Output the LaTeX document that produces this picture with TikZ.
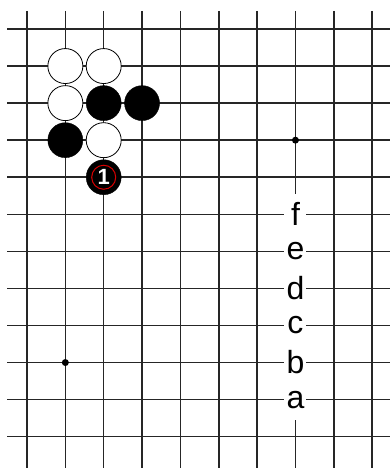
\documentclass[tikz,border=0pt]{standalone}
\usepackage{fontspec}
\setmainfont{Liberation Sans}
\usepackage{tikz}

\begin{document}
\begin{tikzpicture}[
  x=1pt, y=-1pt,
  grid/.style={line width=1.5pt, black!85},
  wst/.style={circle, draw=black, line width=0.8pt, fill=white, minimum size=35pt, inner sep=0pt},
  bst/.style={circle, draw=black, fill=black, minimum size=35pt, inner sep=0pt},
  hoshi/.style={circle, fill=black, inner sep=0pt, minimum size=7pt},
  ring/.style={circle, draw=red!85!black, line width=1pt, minimum size=24pt, inner sep=0pt},
  lbl/.style={fill=white, inner sep=0pt, minimum width=22pt, minimum height=41pt, font=\fontsize{32}{32}\selectfont},
]
  \useasboundingbox (0,0) rectangle (390,468);

  % board points
  \foreach \i in {0,...,9}
    \foreach \j in {0,...,11}
      \coordinate (p-\i-\j) at ({27+38.35*\i},{29+37.06*\j});

  % grid lines
  \foreach \i in {0,...,9}
    \draw[grid] (p-\i-0 |- 0,11) -- (p-\i-11 |- 0,468);
  \foreach \j in {0,...,11}
    \draw[grid] (p-0-\j -| 7,0) -- (p-9-\j -| 390,0);

  % star points
  \node[hoshi] (h1) at (p-7-3) {};
  \node[hoshi] (h2) at (p-1-9) {};

  % white stones
  \node[wst] (w1) at (p-1-1) {};
  \node[wst] (w2) at (p-2-1) {};
  \node[wst] (w3) at (p-1-2) {};
  \node[wst] (w4) at (p-2-3) {};

  % black stones
  \node[bst] (b1) at (p-2-2) {};
  \node[bst] (b2) at (p-3-2) {};
  \node[bst] (b3) at (p-1-3) {};

  % move 1
  \node[bst, text=white, font=\fontsize{22}{22}\selectfont\bfseries] (m1) at (p-2-4) {1};
  \node[ring] (r1) at (m1) {};

  % candidate points
  \node[lbl] (la) at (p-7-10) {a};
  \node[lbl] (lb) at (p-7-9) {b};
  \node[lbl] (lc) at (p-7-8) {c};
  \node[lbl] (ld) at (p-7-7) {d};
  \node[lbl] (le) at (p-7-6) {e};
  \node[lbl] (lf) at (p-7-5) {f};
\end{tikzpicture}
\end{document}
